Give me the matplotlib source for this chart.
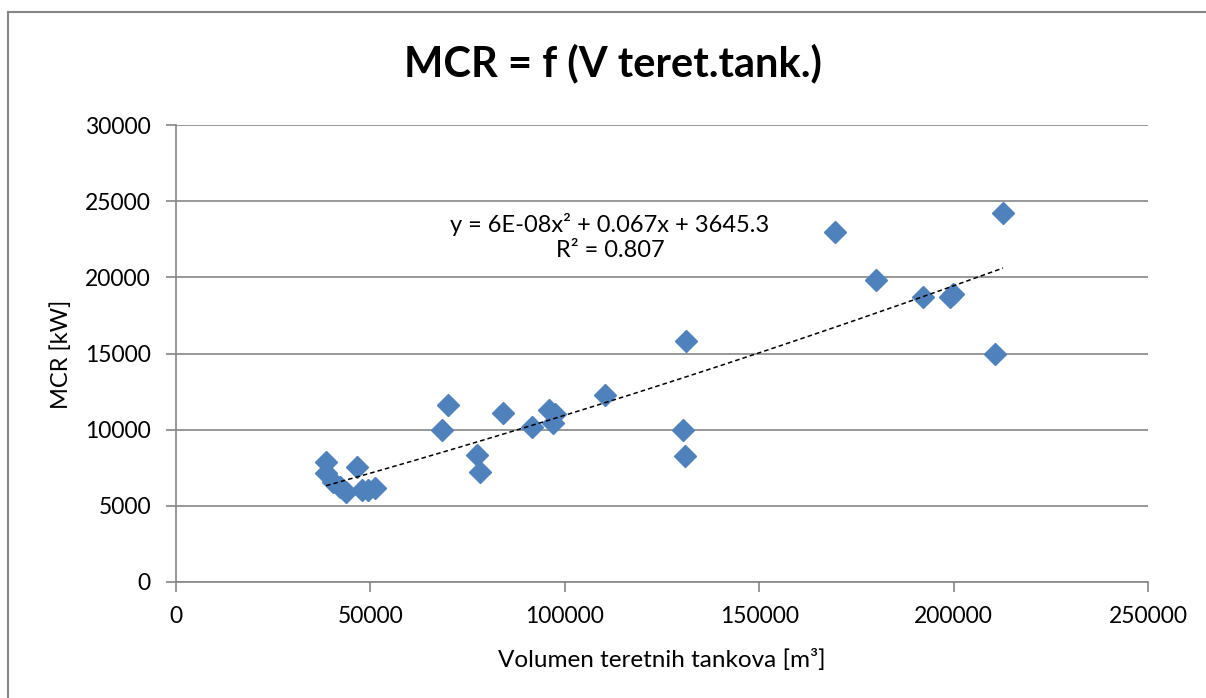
import numpy as np
import matplotlib
matplotlib.use('Agg')
import matplotlib.pyplot as plt
from matplotlib.lines import Line2D

plt.rcParams['font.family'] = ['Lato', 'DejaVu Sans']

## data
volumen = [38600, 38600, 40400, 42200, 43700, 46500, 47800, 49400, 51200,
           68400, 70000, 77400, 78200, 84100, 91600, 96000, 97500, 97000,
           110300, 130400, 130900, 131200, 169500, 180000, 192100, 199000,
           199800, 210700, 212700]
mcr = [7850, 7150, 6550, 6250, 5900, 7550, 6050, 6050, 6150,
       9950, 11600, 8350, 7250, 11100, 10200, 11300, 11000, 10450,
       12250, 9950, 8300, 15800, 23000, 19800, 18700, 18700,
       18900, 14950, 24200]

## trendline from the equation shown on the chart
coef = [6e-08, 0.067, 3645.3]
eq_text = 'y = 6E-08x² + 0.067x + 3645.3'
r2_text = 'R² = 0.807'

title = 'MCR = f (V teret.tank.)'
xlabel = 'Volumen teretnih tankova [m³]'
ylabel = 'MCR [kW]'
xticks = [0, 50000, 100000, 150000, 200000, 250000]
yticks = [0, 5000, 10000, 15000, 20000, 25000, 30000]

W, H = 1206, 698
grey = '#868686'
fig = plt.figure(figsize=(W/100, H/100), dpi=100)
ax = fig.add_axes([176/W, 1-582/H, (1148-176)/W, (582-125)/H])

## grid + axes
ax.set_xlim(0, 250000)
ax.set_ylim(0, 30000)
ax.set_xticks(xticks)
ax.set_yticks(yticks)
ax.yaxis.grid(True, color=grey, linewidth=1.2)
ax.set_axisbelow(True)
for s in ['top', 'right']:
    ax.spines[s].set_visible(False)
for s in ['left', 'bottom']:
    ax.spines[s].set_color(grey)
    ax.spines[s].set_linewidth(1.2)
ax.tick_params(axis='both', colors=grey, width=1.2, length=7, labelsize=16.5,
               labelcolor='black')
ax.tick_params(axis='y', pad=11)
ax.tick_params(axis='x', pad=10)

## points + trend
ax.plot(volumen, mcr, linestyle='none', marker='D', markersize=11,
        color='#4F81BD', zorder=3)
xt = np.linspace(min(volumen), max(volumen), 200)
ax.plot(xt, np.polyval(coef, xt), color='black', linewidth=1.1,
        linestyle=(0, (3, 2)), zorder=4)

## texts
ax.text((610-176)/972, (582-232)/457, eq_text, transform=ax.transAxes,
        ha='center', va='baseline', fontsize=17)
ax.text((610-176)/972, (582-257)/457, r2_text, transform=ax.transAxes,
        ha='center', va='baseline', fontsize=17)
fig.text(613/W, 1-76/H, title, ha='center', va='baseline', fontsize=30,
         fontweight='bold')
fig.text(662/W, 1-667/H, xlabel, ha='center', va='baseline', fontsize=17.5)
fig.text(68/W, 1-354/H, ylabel, ha='center', va='baseline', fontsize=17,
         rotation=90, rotation_mode='anchor')

## outer chart border
fig.add_artist(Line2D([8/W, 1], [1-12/H, 1-12/H], color=grey, linewidth=1.5))
fig.add_artist(Line2D([8/W, 8/W], [0, 1-12/H], color=grey, linewidth=1.5))

fig.savefig('out.png', dpi=100)
